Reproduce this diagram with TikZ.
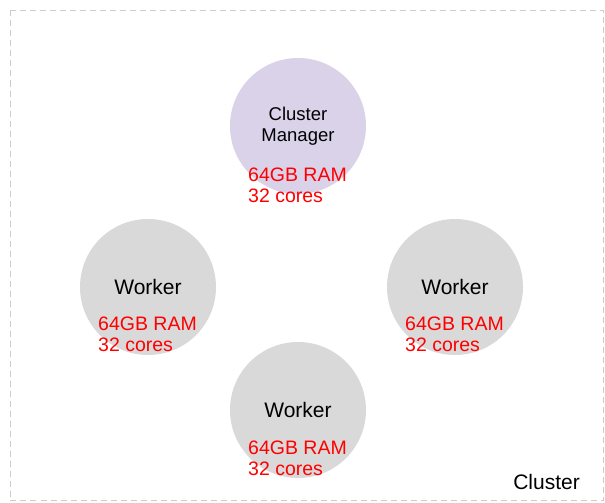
\documentclass[tikz,border=0pt]{standalone}
\usepackage{fontspec}
\setmainfont{Liberation Sans}
\begin{document}
\begin{tikzpicture}[x=1pt,y=-1pt,
  machine/.style={circle,minimum size=136pt,inner sep=0pt,align=center},
  manager/.style={machine,fill=mgrfill},
  worker/.style={machine,fill=wrkfill,font=\fontsize{21}{24}\selectfont},
  spec/.style={anchor=base west,inner sep=0pt,text=red,font=\fontsize{19.5}{21}\selectfont},
  frame/.style={draw=framegray,dash pattern=on 6pt off 4pt,line width=0.8pt}]
\definecolor{mgrfill}{HTML}{D9D2E9}
\definecolor{wrkfill}{HTML}{D9D9D9}
\definecolor{framegray}{HTML}{CCCCCC}
\useasboundingbox (0,0) rectangle (605,503);
% cluster boundary
\draw[frame] (10.5,10.5) rectangle (603,500.5);
\node[anchor=base east,inner sep=0pt,font=\fontsize{21}{24}\selectfont] (clusterlabel) at (580,489) {Cluster};
% machines
\node[manager,font=\fontsize{18.5}{21}\selectfont] (mgr) at (298,126) {Cluster\\Manager};
\node[worker] (wleft) at (148,287) {Worker};
\node[worker] (wright) at (455,287) {Worker};
\node[worker] (wbottom) at (298,410) {Worker};
% resources of each machine
\node[spec] (mgrram) at (248,181) {64GB RAM};
\node[spec] (mgrcores) at (248,202) {32 cores};
\node[spec] (wlram) at (98,330) {64GB RAM};
\node[spec] (wlcores) at (98,351) {32 cores};
\node[spec] (wrram) at (405,330) {64GB RAM};
\node[spec] (wrcores) at (405,351) {32 cores};
\node[spec] (wbram) at (248,454) {64GB RAM};
\node[spec] (wbcores) at (248,475) {32 cores};
\end{tikzpicture}
\end{document}
